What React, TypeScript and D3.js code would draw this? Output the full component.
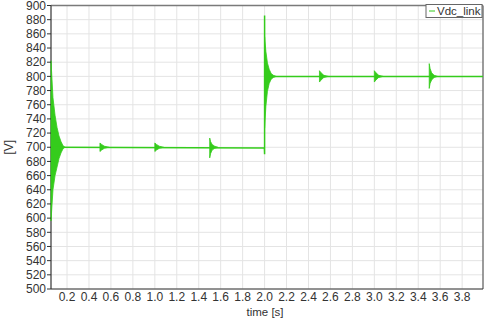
import * as d3 from "d3";

// thin trace of Vdc_link: [time s, volts]
const traceT = [0.054, 1.998, 2.0, 2.0, 2.001, 3.99];
const traceV = [700, 699, 690, 886, 800, 800];

// oscillation bursts drawn as envelopes: [time, upper, lower]
const burstStart: [number, number, number][] = [
  [0.054, 822, 596], [0.072, 770, 640], [0.091, 745, 660], [0.109, 728, 672],
  [0.127, 716, 684], [0.145, 708, 692], [0.164, 702, 698], [0.182, 700, 700],
];
const burst05: [number, number, number][] = [
  [0.5, 706, 694], [0.515, 704, 696], [0.54, 701.5, 698.5], [0.58, 700, 700],
];
const burst10: [number, number, number][] = [
  [1.0, 706, 694], [1.015, 704, 696], [1.04, 701.5, 698.5], [1.08, 700, 700],
];
const burst15: [number, number, number][] = [
  [1.5, 713, 685], [1.508, 708, 691], [1.522, 704, 696], [1.545, 701.5, 698.5], [1.575, 700, 700],
];
const burstStep: [number, number, number][] = [
  [2.0, 856, 727], [2.012, 835, 758], [2.026, 819, 779], [2.042, 810, 790],
  [2.06, 804, 796], [2.08, 801.5, 798.5], [2.105, 800, 800],
];
const burst25: [number, number, number][] = [
  [2.5, 808, 792], [2.515, 805, 795], [2.54, 801.5, 798.5], [2.58, 800, 800],
];
const burst30: [number, number, number][] = [
  [3.0, 808, 792], [3.015, 805, 795], [3.04, 801.5, 798.5], [3.08, 800, 800],
];
const burst35: [number, number, number][] = [
  [3.5, 818, 783], [3.508, 811, 790], [3.522, 805, 795], [3.545, 801.5, 798.5], [3.575, 800, 800],
];
const bursts = [burstStart, burst05, burst10, burst15, burstStep, burst25, burst30, burst35];

const xTicks = [0.2, 0.4, 0.6, 0.8, 1.0, 1.2, 1.4, 1.6, 1.8, 2.0, 2.2, 2.4, 2.6, 2.8, 3.0, 3.2, 3.4, 3.6, 3.8];
const yTicks = d3.range(500, 901, 20);

const W = 486;
const H = 320;
const GREEN = "#35cc1c";
const FONT = "Liberation Sans, Arial, sans-serif";

export default function App() {
  const x = d3.scaleLinear().domain([0.054, 3.99]).range([51, 483]);
  const y = d3.scaleLinear().domain([500, 900]).range([289, 5.5]);

  const line = d3.line<number>().x((_, i) => x(traceT[i])).y((_, i) => y(traceV[i]));
  const area = d3
    .area<[number, number, number]>()
    .x((d) => x(d[0]))
    .y0((d) => y(d[2]))
    .y1((d) => y(d[1]));

  const [x0, x1] = x.range();
  const [yb, yt] = y.range();

  return (
    <svg
      width={W}
      height={H}
      style={{ position: "fixed", left: 0, top: 0, background: "#fff" }}
      fontFamily={FONT}
    >
      <rect width={W} height={H} fill="#fff" />
      {/* grid */}
      {xTicks.map((t) => (
        <line key={"gx" + t} x1={x(t)} x2={x(t)} y1={yt} y2={yb} stroke="#e4e4e4" strokeWidth={1} />
      ))}
      {yTicks.map((v) => (
        <line key={"gy" + v} x1={x0} x2={x1} y1={y(v)} y2={y(v)} stroke="#e4e4e4" strokeWidth={1} />
      ))}

      {/* frame */}
      <line x1={x0} x2={x1} y1={yt} y2={yt} stroke="#7a7a7a" strokeWidth={1.5} />
      <line x1={x1} x2={x1} y1={yt} y2={yb} stroke="#7a7a7a" strokeWidth={1.5} />
      <line x1={x0} x2={x1} y1={yb} y2={yb} stroke="#333" strokeWidth={1.2} />
      <line x1={x0} x2={x0} y1={yt} y2={yb} stroke="#333" strokeWidth={1.2} />

      {/* data */}
      <g>
        {bursts.map((b, i) => (
          <path key={"b" + i} d={area(b) ?? ""} fill={GREEN} stroke={GREEN} strokeWidth={0.8} />
        ))}
        <path d={line(traceT) ?? ""} fill="none" stroke={GREEN} strokeWidth={1.5} />
      </g>

      {/* y axis */}
      {yTicks.map((v) => (
        <g key={"ty" + v}>
          <line x1={x0 - 4} x2={x0} y1={y(v)} y2={y(v)} stroke="#333" strokeWidth={1} />
          <text x={x0 - 5} y={y(v)} dy="0.35em" textAnchor="end" fontSize={12} fill="#333">
            {v}
          </text>
        </g>
      ))}
      {/* x axis */}
      {xTicks.map((t) => (
        <text key={"tx" + t} x={x(t)} y={yb + 12} textAnchor="middle" fontSize={12} fill="#333">
          {t.toFixed(1)}
        </text>
      ))}
      <text x={265} y={316} textAnchor="middle" fontSize={11.5} fill="#333">
        time [s]
      </text>
      <text transform={`translate(13,${(yt + yb) / 2}) rotate(-90)`} textAnchor="middle" fontSize={12} fill="#333">
        [V]
      </text>

      {/* legend */}
      <g>
        <rect x={426} y={4.5} width={56} height={13} fill="#fff" stroke="#666" strokeWidth={1} />
        <line x1={429} x2={435} y1={11} y2={11} stroke={GREEN} strokeWidth={1} />
        <text x={437} y={15} fontSize={11.5} fill="#333">
          Vdc_link
        </text>
      </g>
    </svg>
  );
}
